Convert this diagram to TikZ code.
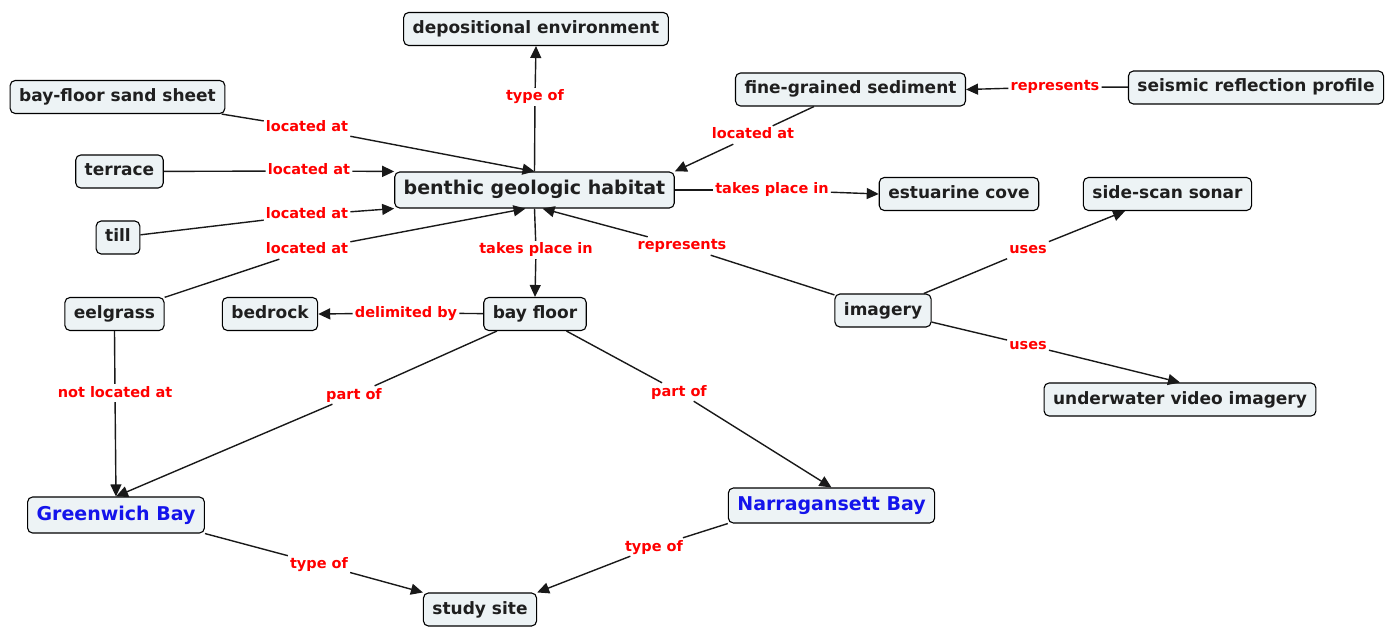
\documentclass[tikz,border=0pt]{standalone}
\usepackage{fontspec}
\setmainfont{DejaVu Sans}
\usepackage{xcolor}
\usetikzlibrary{arrows.meta}

\definecolor{conceptfill}{RGB}{237,243,245}
\definecolor{linkred}{RGB}{255,0,0}
\definecolor{placeblue}{RGB}{20,20,235}

\tikzset{
  concept/.style={draw, rounded corners=5pt, fill=conceptfill, line width=1.1pt, inner xsep=9pt,
    minimum height=33pt, text height=13pt, text depth=4pt, text=black!88,
    font=\fontsize{17}{20}\selectfont\bfseries},
  bigconcept/.style={concept, minimum height=36pt, text height=14.5pt, text depth=4.5pt,
    font=\fontsize{19}{22}\selectfont\bfseries},
  place/.style={bigconcept, text=placeblue},
  linkword/.style={inner sep=2pt, text height=11pt, text depth=3pt, text=linkred,
    font=\fontsize{14.5}{17}\selectfont\bfseries},
  link/.style={line width=1.4pt, black!90},
  linkarrow/.style={link, -{Triangle[length=12pt,width=11pt]}},
}

\begin{document}
\begin{tikzpicture}[x=1pt, y=-1pt]
\useasboundingbox (0,0) rectangle (1394,628);

% Concepts
\node[bigconcept] (habitat) at (534.5,190) {benthic geologic habitat};
\node[concept] (depenv) at (536,29) {depositional environment};
\node[concept] (sandsheet) at (117.5,97) {bay-floor sand sheet};
\node[concept] (terrace) at (119.5,171.5) {terrace};
\node[concept] (till) at (118,237.5) {till};
\node[concept] (eelgrass) at (114.5,314) {eelgrass};
\node[concept] (bedrock) at (270,314) {bedrock};
\node[concept] (bayfloor) at (535,314) {bay floor};
\node[concept] (finesed) at (850.5,89.5) {fine-grained sediment};
\node[concept] (seismic) at (1256,87.5) {seismic reflection profile};
\node[concept] (cove) at (959,194) {estuarine cove};
\node[concept] (sonar) at (1167.5,194) {side-scan sonar};
\node[concept] (imagery) at (883,310.5) {imagery};
\node[concept] (video) at (1180,399.5) {underwater video imagery};
\node[concept] (studysite) at (480,609.5) {study site};

% Places
\node[place] (greenwich) at (116,515) {Greenwich Bay};
\node[place, minimum height=35pt] (narragansett) at (831.5,505.5) {Narragansett Bay};

% Linking words
\node[linkword] (l_typeof) at (535,97) {type of};
\node[linkword] (l_sand) at (307,128) {located at};
\node[linkword] (l_terrace) at (309,171) {located at};
\node[linkword] (l_till) at (307,215) {located at};
\node[linkword] (l_eel) at (307,250) {located at};
\node[linkword] (l_fine) at (753,135) {located at};
\node[linkword] (l_cove) at (772,190) {takes place in};
\node[linkword] (l_floor) at (536,250) {takes place in};
\node[linkword] (l_img) at (682,246) {represents};
\node[linkword] (l_seis) at (1055,87) {represents};
\node[linkword] (l_sonar) at (1028,250) {uses};
\node[linkword] (l_video) at (1028,345) {uses};
\node[linkword] (l_delim) at (406,313) {delimited by};
\node[linkword] (l_partgw) at (354,395) {part of};
\node[linkword] (l_partnb) at (679,392) {part of};
\node[linkword] (l_notat) at (115,393) {not located at};
\node[linkword] (l_typegw) at (319,564) {type of};
\node[linkword] (l_typenb) at (654,547) {type of};

% Links into the habitat
\draw[link] (sandsheet) -- (l_sand);
\draw[linkarrow] (l_sand) -- (habitat.north);
\draw[link] (terrace) -- (l_terrace);
\draw[linkarrow] (l_terrace) -- (habitat.north west);
\draw[link] (till) -- (l_till);
\draw[linkarrow] (l_till) -- (habitat.south west);
\draw[link] (eelgrass) -- (l_eel);
\draw[linkarrow] (l_eel) -- ([xshift=-9pt]habitat.south);
\draw[link] (finesed) -- (l_fine);
\draw[linkarrow] (l_fine) -- (habitat.north east);
\draw[link] (imagery) -- (l_img);
\draw[linkarrow] (l_img) -- ([xshift=8pt]habitat.south);

% Links out of the habitat
\draw[link] (habitat.north) -- (l_typeof);
\draw[linkarrow] (l_typeof) -- (depenv.south);
\draw[link] (habitat) -- (l_cove);
\draw[linkarrow] (l_cove) -- (cove.west);
\draw[link] (habitat.south) -- (l_floor);
\draw[linkarrow] (l_floor) -- (bayfloor.north);

% Imagery and seismic
\draw[link] (seismic) -- (l_seis);
\draw[linkarrow] (l_seis) -- (finesed.east);
\draw[link] (imagery) -- (l_sonar);
\draw[linkarrow] (l_sonar) -- (sonar);
\draw[link] (imagery) -- (l_video);
\draw[linkarrow] (l_video) -- (video.north);

% Bay floor
\draw[link] (bayfloor) -- (l_delim);
\draw[linkarrow] (l_delim) -- (bedrock.east);
\draw[link] (bayfloor) -- (l_partgw);
\draw[linkarrow] (l_partgw) -- (greenwich.north);
\draw[link] (bayfloor) -- (l_partnb);
\draw[linkarrow] (l_partnb) -- (narragansett.north);
\draw[link] (eelgrass.south) -- (l_notat);
\draw[linkarrow] (l_notat) -- (greenwich.north);

% Study site
\draw[link] (greenwich.south east) -- (l_typegw);
\draw[linkarrow] (l_typegw) -- (studysite.north west);
\draw[link] (narragansett.south west) -- (l_typenb);
\draw[linkarrow] (l_typenb) -- (studysite.north east);

\end{tikzpicture}
\end{document}
